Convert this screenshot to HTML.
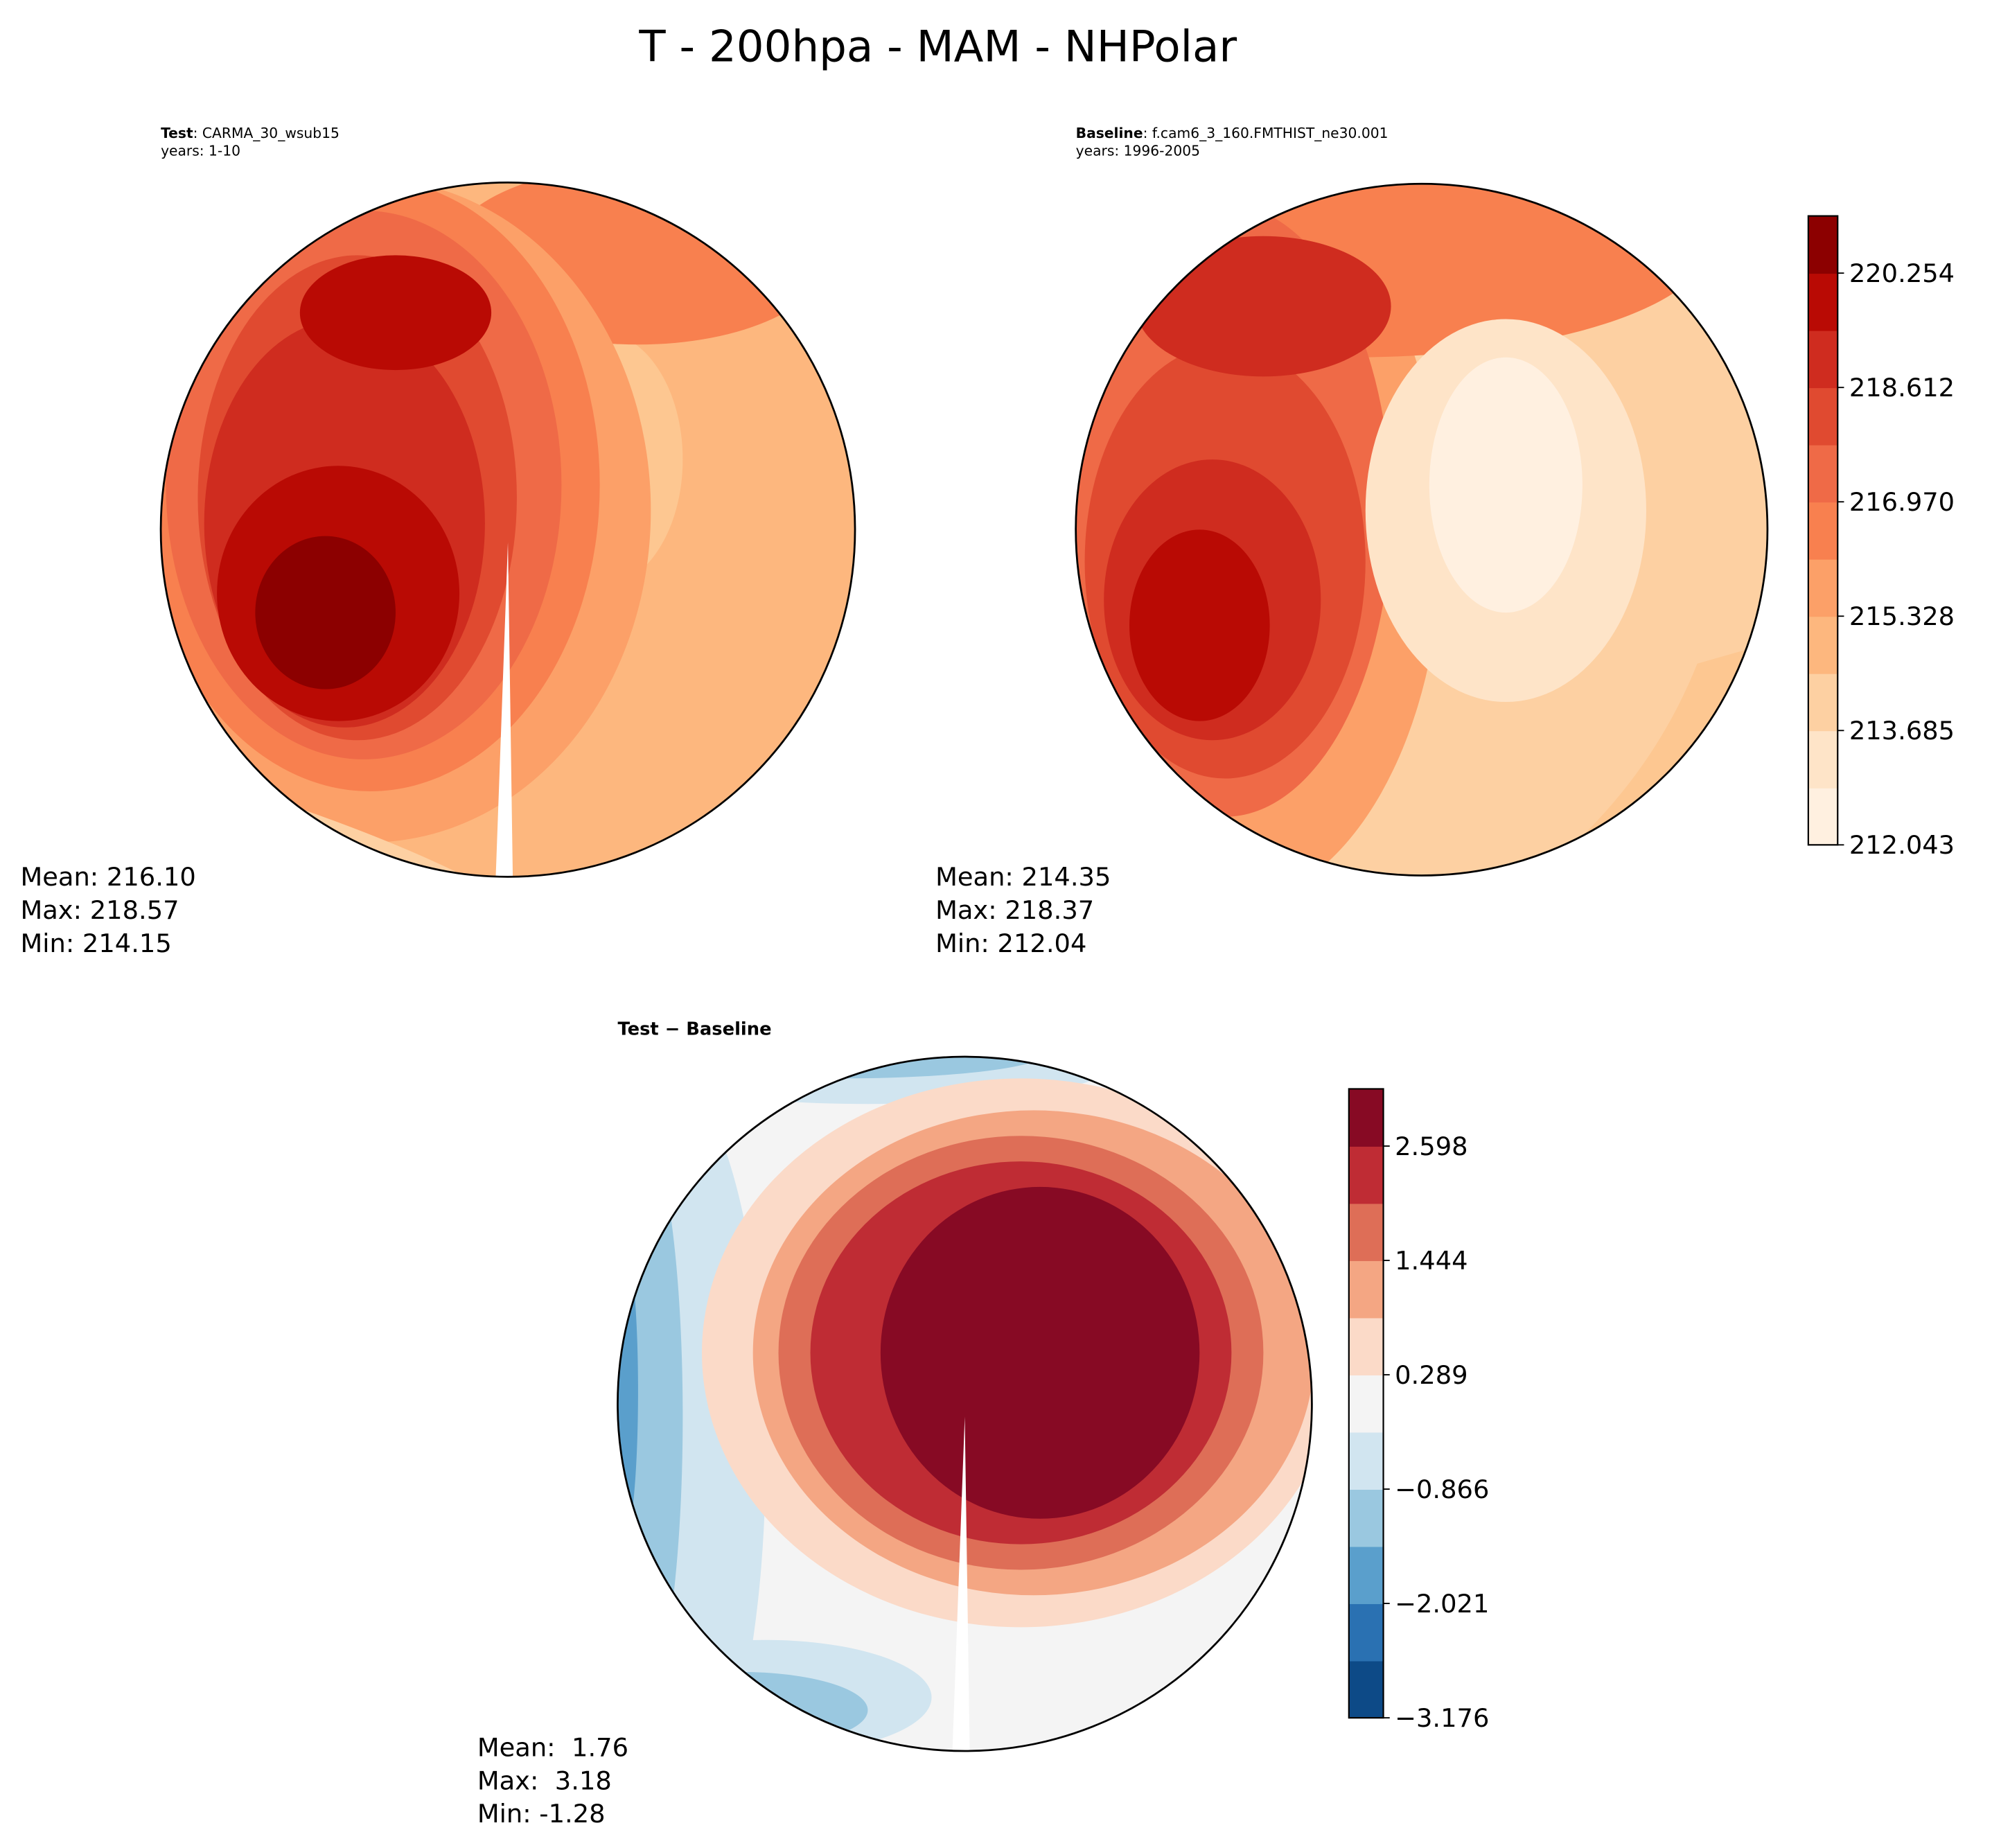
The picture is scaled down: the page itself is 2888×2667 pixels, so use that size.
<!DOCTYPE html>
<html><head><meta charset="utf-8"><style>
html,body{margin:0;padding:0;background:#fff}
svg{display:block}
text{font-family:"DejaVu Sans","Liberation Sans",sans-serif;white-space:pre}
</style></head><body>
<svg id="fig" width="2888" height="2667" viewBox="0 0 1568 1448" xmlns="http://www.w3.org/2000/svg">
<defs>
<clipPath id="c1"><circle cx="398" cy="415" r="272"/></clipPath>
<clipPath id="c2"><circle cx="1114" cy="415" r="271"/></clipPath>
<clipPath id="c3"><circle cx="756" cy="1100" r="272"/></clipPath>
</defs>
<text x="735" y="48" font-size="34" text-anchor="middle">T - 200hpa - MAM - NHPolar</text>

<text x="126" y="108" font-size="11"><tspan font-weight="bold">Test</tspan>: CARMA_30_wsub15</text>
<text x="126" y="122" font-size="11">years: 1-10</text>
<text x="843" y="108" font-size="11"><tspan font-weight="bold">Baseline</tspan>: f.cam6_3_160.FMTHIST_ne30.001</text>
<text x="843" y="122" font-size="11">years: 1996-2005</text>
<text x="484" y="811" font-size="14" font-weight="bold">Test − Baseline</text>

<!-- test map -->
<g clip-path="url(#c1)">
<rect x="120" y="140" width="560" height="560" fill="#fdb77e"/>
<ellipse cx="470" cy="360" rx="65" ry="100" fill="#fdc791"/>
<ellipse cx="500" cy="200" rx="150" ry="70" fill="#f8804f"/>
<ellipse cx="290" cy="400" rx="220" ry="260" fill="#fca068"/>
<ellipse cx="290" cy="380" rx="180" ry="240" fill="#f8804f"/>
<ellipse cx="285" cy="380" rx="155" ry="215" fill="#ef6a47"/>
<ellipse cx="280" cy="390" rx="125" ry="190" fill="#e04a30"/>
<ellipse cx="270" cy="410" rx="110" ry="160" fill="#cf2c1f"/>
<ellipse cx="310" cy="245" rx="75" ry="45" fill="#b90a04"/>
<ellipse cx="265" cy="465" rx="95" ry="100" fill="#b90a04"/>
<ellipse cx="255" cy="480" rx="55" ry="60" fill="#8c0000"/>
<path d="M130 600 Q300 650 390 700 L120 700Z" fill="#fdd0a2"/>
<path d="M398 425 L388 700 L402 700Z" fill="#fff"/>
</g>
<circle cx="398" cy="415" r="272" fill="none" stroke="#000" stroke-width="1.5"/>

<!-- baseline map -->
<g clip-path="url(#c2)">
<rect x="840" y="140" width="560" height="560" fill="#fdd0a2"/>
<ellipse cx="960" cy="420" rx="170" ry="290" fill="#fca068"/>
<ellipse cx="1060" cy="190" rx="280" ry="90" fill="#f8804f"/>
<ellipse cx="960" cy="400" rx="130" ry="240" fill="#ef6a47"/>
<ellipse cx="960" cy="440" rx="110" ry="170" fill="#e04a30"/>
<ellipse cx="990" cy="240" rx="100" ry="55" fill="#cf2c1f"/>
<ellipse cx="950" cy="470" rx="85" ry="110" fill="#cf2c1f"/>
<ellipse cx="940" cy="490" rx="55" ry="75" fill="#b90a04"/>
<ellipse cx="1180" cy="400" rx="110" ry="150" fill="#fee4c8"/>
<ellipse cx="1180" cy="380" rx="60" ry="100" fill="#fff0e0"/>
<path d="M1330 520 Q1290 620 1200 690 L1400 700 L1400 500Z" fill="#fdc791"/>
</g>
<circle cx="1114" cy="415" r="271" fill="none" stroke="#000" stroke-width="1.5"/>

<!-- diff map -->
<g clip-path="url(#c3)">
<rect x="480" y="820" width="560" height="560" fill="#f4f4f4"/>
<ellipse cx="520" cy="1140" rx="80" ry="300" fill="#d1e5f0"/>
<ellipse cx="500" cy="1110" rx="35" ry="230" fill="#9ac8e0"/>
<ellipse cx="488" cy="1090" rx="12" ry="120" fill="#5a9fcc"/>
<ellipse cx="680" cy="830" rx="200" ry="35" fill="#d1e5f0"/>
<ellipse cx="660" cy="825" rx="160" ry="20" fill="#9ac8e0"/>
<ellipse cx="600" cy="1330" rx="130" ry="45" fill="#d1e5f0"/>
<ellipse cx="580" cy="1340" rx="100" ry="30" fill="#9ac8e0"/>
<ellipse cx="800" cy="1060" rx="250" ry="215" fill="#fbdac8"/>
<ellipse cx="810" cy="1060" rx="220" ry="190" fill="#f4a683"/>
<ellipse cx="800" cy="1060" rx="190" ry="170" fill="#de6e57"/>
<ellipse cx="800" cy="1060" rx="165" ry="150" fill="#bf2c34"/>
<ellipse cx="815" cy="1060" rx="125" ry="130" fill="#870a24"/>
<path d="M756 1110 L746 1380 L760 1380Z" fill="#fff"/>
</g>
<circle cx="756" cy="1100" r="272" fill="none" stroke="#000" stroke-width="1.5"/>

<g id="cb1"></g>
<g id="cb2"></g>

<g font-size="20">
<text x="16" y="694">Mean: 216.10</text><text x="16" y="720">Max: 218.57</text><text x="16" y="746">Min: 214.15</text></g>
<g font-size="20">
<text x="733" y="694">Mean: 214.35</text><text x="733" y="720">Max: 218.37</text><text x="733" y="746">Min: 212.04</text></g>
<g font-size="20">
<text x="374" y="1376" xml:space="preserve">Mean:  1.76</text><text x="374" y="1402" xml:space="preserve">Max:  3.18</text><text x="374" y="1428">Min: -1.28</text></g>
</svg>
<script>
const tempColors=["#fff0e0","#fee4c8","#fdd0a2","#fdb77e","#fca068","#f8804f","#ef6a47","#e04a30","#cf2c1f","#b90a04","#8c0000"];
const tempTicks=["212.043","213.685","215.328","216.970","218.612","220.254"];
const diffColors=["#0d4a87","#2a71b2","#5a9fcc","#9ac8e0","#d1e5f0","#f4f4f4","#fbdac8","#f4a683","#de6e57","#bf2c34","#870a24"];
const diffTicks=["−3.176","−2.021","−0.866","0.289","1.444","2.598"];
const NS="http://www.w3.org/2000/svg";
function drawCb(id,colors,ticks,x,yBottom,w,band){
  const g=document.getElementById(id);
  colors.forEach((c,i)=>{
    const r=document.createElementNS(NS,'rect');
    
    
    r.setAttribute('x',x);r.setAttribute('y',yBottom-(i+1)*band);
    r.setAttribute('width',w);r.setAttribute('height',band+0.5);r.setAttribute('fill',c);
    g.appendChild(r);
  });
  const f=document.createElementNS(NS,'rect');
  
  
  f.setAttribute('x',x);f.setAttribute('y',yBottom-colors.length*band);
  f.setAttribute('width',w);f.setAttribute('height',colors.length*band);
  f.setAttribute('fill','none');f.setAttribute('stroke','#000');f.setAttribute('stroke-width','1.2');
  g.appendChild(f);
  ticks.forEach((t,i)=>{
    const y=yBottom-i*2*band;
    const l=document.createElementNS(NS,'line');
    
    
    l.setAttribute('x1',x+w);l.setAttribute('x2',x+w+5);l.setAttribute('y1',y);l.setAttribute('y2',y);l.setAttribute('stroke','#000');
    g.appendChild(l);
    const tx=document.createElementNS(NS,'text');
    
    
    tx.setAttribute('x',x+w+9);tx.setAttribute('y',y+7);tx.setAttribute('font-size','20');
    tx.textContent=t;g.appendChild(tx);
  });
}
drawCb('cb1',tempColors,tempTicks,1417,662,23,44.8);
drawCb('cb2',diffColors,diffTicks,1057,1346,27,44.8);
</script>
</body></html>
